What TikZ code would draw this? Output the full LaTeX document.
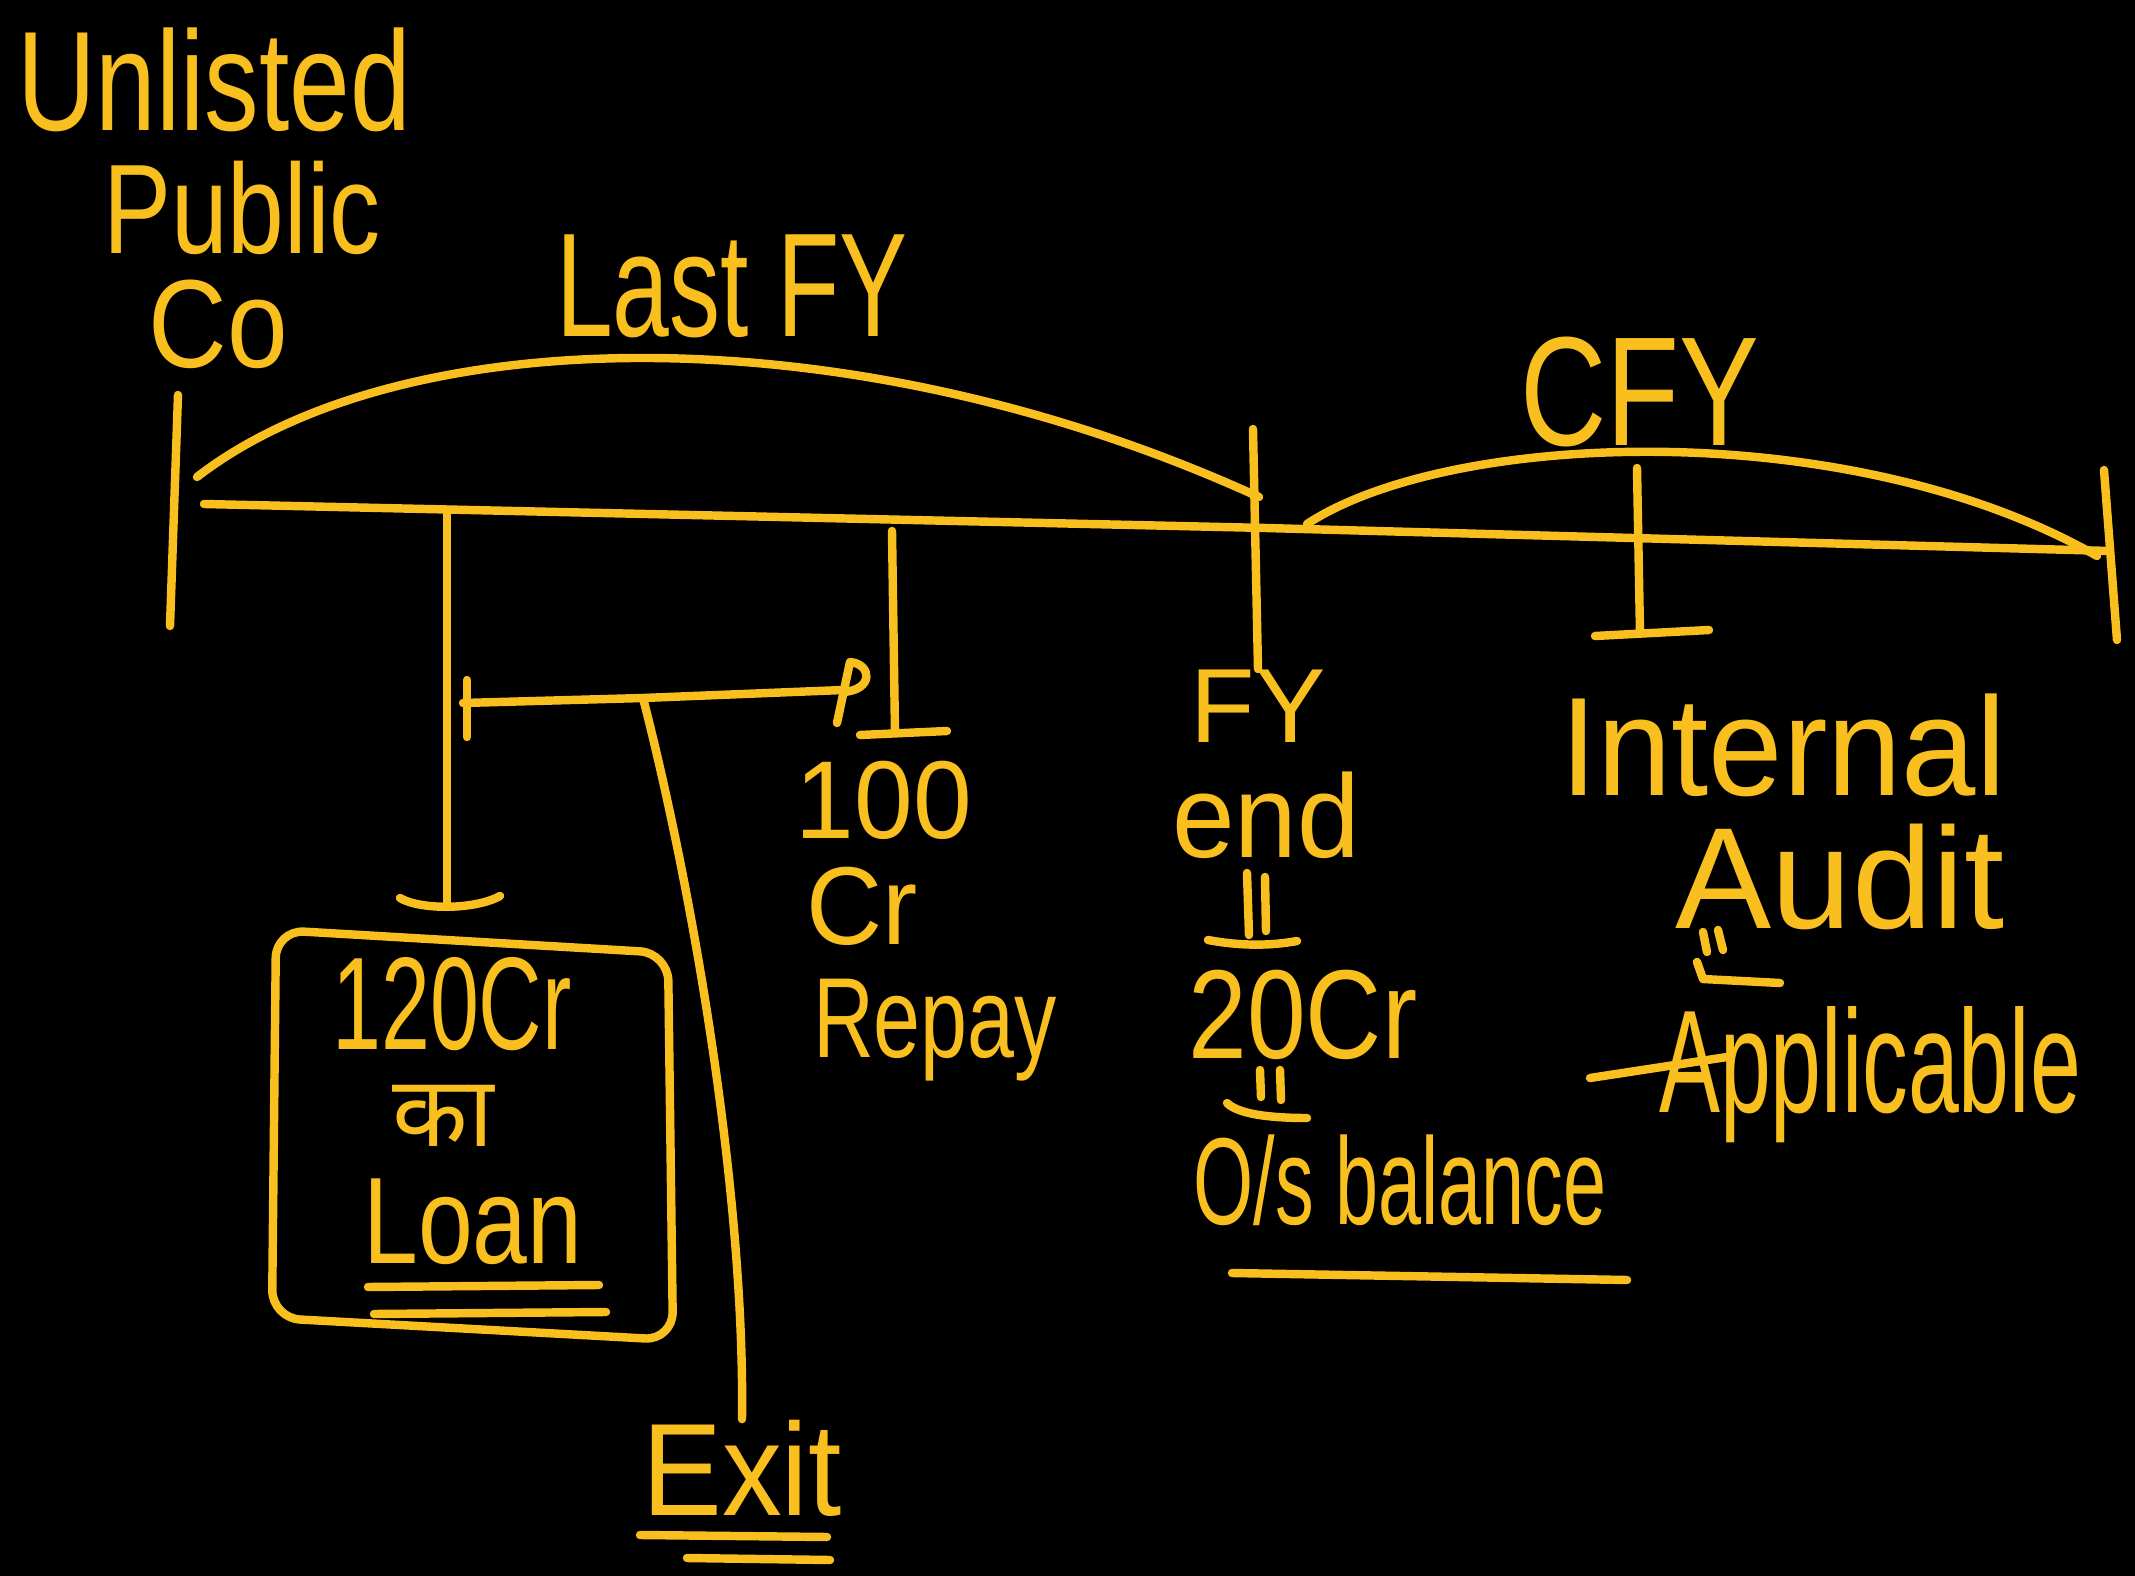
\documentclass[tikz,border=0pt]{standalone}
\usepackage{fontspec}
\setmainfont{Liberation Sans}
\newfontfamily\deva[Script=Devanagari]{Noto Sans}
\definecolor{ink}{RGB}{248,191,30}
% size, vertical stretch, text
\newcommand\hw[3]{\fontsize{#1}{#1}\selectfont\scalebox{1}[#2]{#3}}
\begin{document}
\begin{tikzpicture}[x=0.01cm,y=-0.01cm,
  pen/.style={draw=ink,line width=2.4pt,line cap=round,line join=round},
  lbl/.style={text=ink,inner sep=0pt,anchor=center}]
\fill[black] (0,0) rectangle (2135,1576);
\useasboundingbox (0,0) rectangle (2135,1576);

% company label
\node[lbl] (unl) at (214,80) {\hw{31}{1.3}{Unlisted}};
\node[lbl] (pub) at (242,208) {\hw{29}{1.25}{Public}};
\node[lbl] (co)  at (218,324) {\hw{31}{1.15}{Co}};

% period labels
\node[lbl] (lfy) at (732,286) {\hw{29}{1.45}{Last FY}};
\node[lbl] (cfy) at (1640,392) {\hw{34}{1.3}{CFY}};

% timeline
\coordinate (t0) at (204,504);
\coordinate (tm) at (1266,528);
\coordinate (t1) at (2110,551);
\draw[pen] (t0) -- (tm) -- (t1);
\draw[pen] (178,395) -- (170,626);
\draw[pen] (2104,470) -- (2117,640);
\draw[pen] (197,477) .. controls (400,320) and (850,310) .. (1259,497);
\draw[pen] (1307,524) .. controls (1450,430) and (1850,415) .. (2097,556);

% loan taken
\node[lbl] (b1) at (452,1004) {\hw{25}{1.5}{120Cr}};
\node[lbl] (b2) at (443,1116) {\deva\hw{28}{1}{का}};
\node[lbl] (b3) at (473,1222) {\hw{28}{1.25}{Loan}};
\draw[pen,rounded corners=8pt] (276,930) -- (668,953) -- (673,1340) -- (272,1318) -- cycle;
\draw[pen] (368,1287) -- (599,1285);
\draw[pen] (374,1314) -- (606,1312);
\coordinate (loanTop) at (447,511);
\draw[pen] (loanTop) -- (447,907);
\draw[pen] (400,898) .. controls (420,910) and (475,910) .. (500,896);

% repayment
\node[lbl] (r1) at (884,800) {\hw{30}{1.05}{100}};
\node[lbl] (r2) at (862,906) {\hw{30}{1.05}{Cr}};
\node[lbl] (r3) at (935,1030) {\hw{24}{1.35}{Repay}};
\draw[pen] (892,531) -- (895,733);
\draw[pen] (860,735) -- (947,731);

% bracket between loan and repayment
\draw[pen] (467,680) -- (467,737);
\coordinate (split) at (643,698);
\draw[pen] (463,703) -- (split) -- (843,690);
\draw[pen] (837,723) -- (850,662) .. controls (872,664) and (874,690) .. (843,692);

% exit
\node[lbl] (exit) at (742,1468) {\hw{34}{1.1}{Exit}};
\draw[pen] (split) .. controls (695,900) and (745,1200) .. (exit.north);
\draw[pen] (640,1535) -- (827,1537);
\draw[pen] (687,1558) -- (830,1560);

% year end
\node[lbl] (fy1) at (1258,706) {\hw{30}{1.0}{FY}};
\node[lbl] (fy2) at (1266,815) {\hw{32}{1.05}{end}};
\node[lbl] (fy3) at (1303,1015) {\hw{30}{1.2}{20Cr}};
\node[lbl] (fy4) at (1400,1180) {\hw{22}{1.6}{O/s balance}};
\draw[pen] (1253,429) -- (fy1.north);
\draw[pen] (1247,873) -- (1249,935);
\draw[pen] (1265,877) -- (1266,931);
\draw[pen] (1208,940) .. controls (1240,946) and (1270,946) .. (1297,941);
\draw[pen] (1260,1070) -- (1261,1097);
\draw[pen] (1280,1070) -- (1281,1100);
\draw[pen] (1227,1103) .. controls (1240,1116) and (1280,1118) .. (1307,1118);
\draw[pen] (1232,1273) -- (1627,1280);

% internal audit
\node[lbl] (ia1) at (1783,745) {\hw{38}{1.05}{Internal}};
\node[lbl] (ia2) at (1840,877) {\hw{41}{1.0}{Audit}};
\node[lbl] (ia3) at (1870,1075) {\hw{26}{1.6}{Applicable}};
\draw[pen] (1637,468) -- (1640,633);
\draw[pen] (1595,636) -- (1709,630);
\draw[pen] (1703,932) -- (1707,952);
\draw[pen] (1718,930) -- (1723,950);
\draw[pen] (1697,962) -- (1703,979) -- (1780,983);
\draw[pen] (1590,1078) -- (1727,1057);
\end{tikzpicture}
\end{document}
